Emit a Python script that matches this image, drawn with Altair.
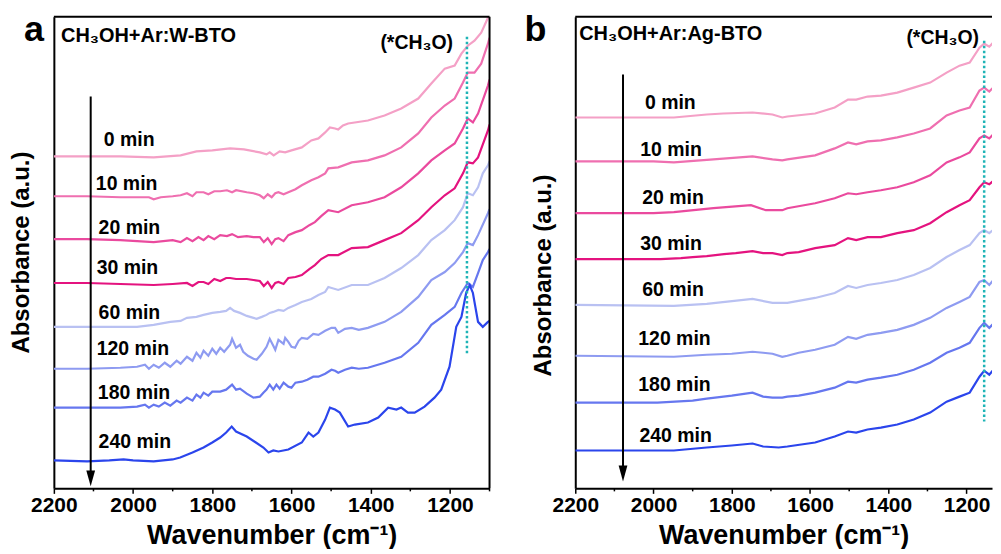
import altair as alt
import pandas as pd

FONT = "Liberation Sans"
NAMES = ["0 min", "10 min", "20 min", "30 min", "60 min", "120 min", "180 min", "240 min"]
COLORS = ["#F4A0C6", "#EF6FB0", "#EA4A9E", "#E4137F", "#B9C1F2", "#8E9BF1", "#6677EF", "#2B45EC"]
X_TICKS = [2200, 2000, 1800, 1600, 1400, 1200]
X_MINOR = [2100, 1900, 1700, 1500, 1300, 1100]

# ---- Panel a (W-BTO): (wavenumber, stacked absorbance a.u.) ----
A_0 = [(2200,333),(2116,333),(2032,333),(1948,332),(1880,334),(1840,338),(1800,339),(1755,341),(1720,340),(1680,337),(1663,335),(1655,337),(1645,334),(1630,338),(1616,337),(1600,339),(1574,342),(1550,349),(1532,351),(1515,357),(1503,362),(1490,361),(1482,360),(1470,364),(1457,366),(1407,369),(1365,374),(1323,381),(1280,391),(1247,406),(1213,421),(1188,424),(1171,436),(1155,444),(1138,449),(1121,457),(1104,472),(1100,478)]
A_10 = [(2200,293),(2116,293),(2032,292),(1960,292),(1948,290),(1930,292),(1900,293),(1880,294),(1864,296),(1850,293),(1840,297),(1822,297),(1810,295),(1795,298),(1780,298),(1763,299),(1750,297),(1740,299),(1713,297),(1696,296),(1680,294),(1670,291),(1660,295),(1650,292),(1641,296),(1633,297),(1620,295),(1608,297),(1590,300),(1574,304),(1550,309),(1532,312),(1515,316),(1507,321),(1482,322),(1448,327),(1407,329),(1365,334),(1323,342),(1280,356),(1247,372),(1213,384),(1188,391),(1167,407),(1155,417),(1138,417),(1121,426),(1104,446),(1100,452)]
A_20 = [(2200,250),(2116,250),(2032,249),(1948,247),(1900,249),(1880,247),(1864,251),(1850,248),(1835,252),(1822,249),(1810,253),(1795,250),(1780,254),(1763,253),(1750,255),(1735,252),(1713,253),(1696,252),(1680,252),(1670,247),(1660,251),(1650,245),(1641,250),(1633,251),(1620,248),(1608,254),(1590,257),(1574,259),(1555,264),(1541,267),(1525,273),(1507,279),(1482,277),(1448,284),(1407,287),(1365,292),(1323,302),(1280,316),(1247,329),(1213,339),(1188,346),(1167,361),(1155,371),(1142,367),(1129,376),(1104,404),(1100,410)]
A_30 = [(2200,206),(2116,206),(2032,205),(1948,204),(1900,205),(1864,206),(1850,203),(1835,207),(1822,207),(1810,205),(1795,210),(1780,208),(1765,211),(1755,211),(1740,210),(1713,210),(1696,209),(1680,208),(1670,203),(1660,207),(1650,201),(1641,206),(1633,207),(1620,205),(1608,211),(1590,212),(1574,214),(1555,220),(1541,224),(1525,230),(1507,234),(1482,234),(1448,241),(1407,242),(1365,249),(1323,256),(1280,269),(1247,282),(1213,294),(1188,301),(1167,316),(1155,327),(1142,326),(1129,332),(1104,359),(1100,365)]
A_60 = [(2200,162),(2116,162),(2032,162),(1990,162),(1948,164),(1906,167),(1880,168),(1864,171),(1840,172),(1822,174),(1800,176),(1780,177),(1765,178),(1755,181),(1745,178),(1730,176),(1713,173),(1696,171),(1688,170),(1675,172),(1663,174),(1655,176),(1646,177),(1633,179),(1620,178),(1608,181),(1590,184),(1574,187),(1550,190),(1532,194),(1515,197),(1507,202),(1482,199),(1448,204),(1407,204),(1365,211),(1323,221),(1280,234),(1247,249),(1213,259),(1188,269),(1167,282),(1155,296),(1142,294),(1129,302),(1117,316),(1104,324),(1100,328)]
A_120 = [(2200,120),(2116,120),(2032,121),(1990,122),(1970,124),(1960,120),(1948,124),(1935,121),(1920,126),(1906,122),(1890,128),(1880,125),(1864,132),(1850,128),(1840,136),(1830,131),(1822,138),(1810,133),(1800,140),(1790,135),(1780,141),(1770,137),(1755,144),(1750,150),(1740,141),(1730,144),(1722,137),(1710,133),(1696,130),(1688,129),(1675,135),(1663,142),(1655,150),(1646,143),(1641,139),(1633,149),(1620,145),(1616,151),(1608,147),(1600,142),(1591,141),(1582,148),(1574,151),(1560,150),(1545,155),(1532,154),(1515,158),(1499,161),(1490,161),(1482,156),(1465,160),(1448,161),(1430,159),(1407,161),(1365,167),(1323,177),(1280,192),(1247,209),(1213,217),(1188,226),(1167,237),(1155,246),(1142,244),(1129,254),(1104,276),(1100,280)]
A_180 = [(2200,81),(2116,81),(2032,81),(1990,82),(1970,84),(1960,81),(1948,84),(1935,82),(1920,86),(1906,83),(1890,88),(1880,86),(1864,91),(1850,88),(1840,94),(1830,91),(1822,96),(1810,93),(1800,97),(1780,97),(1765,99),(1750,104),(1740,99),(1730,100),(1713,95),(1696,91),(1680,92),(1671,96),(1663,99),(1655,104),(1646,99),(1638,104),(1630,100),(1620,106),(1608,102),(1600,101),(1590,106),(1574,107),(1560,109),(1545,112),(1532,112),(1515,115),(1499,119),(1490,118),(1482,116),(1465,119),(1448,121),(1430,120),(1407,121),(1365,126),(1323,132),(1280,146),(1247,164),(1213,174),(1188,182),(1171,196),(1155,206),(1142,202),(1129,216),(1117,229),(1104,237),(1100,240)]
A_240 = [(2200,28),(2116,27),(2060,28),(2024,29),(2000,28),(1948,27),(1900,29),(1881,31),(1850,36),(1822,41),(1800,46),(1780,51),(1765,56),(1751,62),(1740,57),(1713,52),(1690,46),(1671,41),(1658,36),(1646,38),(1633,37),(1608,39),(1574,46),(1557,56),(1545,52),(1532,56),(1515,69),(1503,81),(1490,79),(1478,76),(1457,62),(1440,64),(1407,66),(1381,71),(1356,81),(1335,79),(1323,81),(1306,76),(1289,76),(1264,82),(1239,91),(1222,99),(1201,122),(1184,162),(1171,172),(1159,196),(1150,204),(1142,196),(1129,167),(1117,162),(1104,167),(1100,168)]
A_CURVES = [A_0, A_10, A_20, A_30, A_60, A_120, A_180, A_240]
A_LABEL_WN = [2074, 2094, 2087, 2092, 2087, 2092, 2089, 2087]
A_LABEL_H = [349, 305, 261, 221, 176, 140, 96, 46]

# ---- Panel b (Ag-BTO) ----
B_0 = [(2200,372),(2000,372),(1948,372),(1864,375),(1822,376),(1747,377),(1696,375),(1671,372),(1658,373),(1587,376),(1537,382),(1503,390),(1482,390),(1453,393),(1419,394),(1377,397),(1335,402),(1293,407),(1251,417),(1218,424),(1192,427),(1167,442),(1155,446),(1142,443),(1127,449),(1100,455)]
B_10 = [(2200,328),(2000,328),(1948,327),(1847,330),(1747,333),(1696,330),(1671,329),(1658,330),(1587,334),(1537,341),(1503,347),(1482,345),(1453,348),(1419,349),(1377,352),(1335,356),(1293,361),(1251,374),(1218,379),(1192,382),(1167,399),(1155,402),(1142,398),(1127,404),(1100,410)]
B_20 = [(2200,276),(2000,276),(1948,277),(1847,281),(1751,284),(1713,279),(1671,279),(1658,281),(1587,286),(1537,291),(1503,296),(1482,295),(1453,297),(1419,299),(1377,302),(1335,307),(1293,314),(1251,327),(1218,332),(1192,337),(1167,351),(1155,354),(1142,351),(1127,357),(1100,362)]
B_30 = [(2200,230),(1982,230),(1930,231),(1900,232),(1864,233),(1820,235),(1790,236),(1747,238),(1720,236),(1696,236),(1671,234),(1658,236),(1629,237),(1587,241),(1537,244),(1503,251),(1482,249),(1453,252),(1419,252),(1377,256),(1335,259),(1293,266),(1251,277),(1218,284),(1192,289),(1167,302),(1155,307),(1142,305),(1127,310),(1100,315)]
B_60 = [(2200,184),(1948,183),(1864,185),(1747,190),(1696,186),(1671,186),(1658,186),(1587,191),(1537,196),(1503,203),(1482,201),(1453,204),(1419,206),(1377,209),(1335,214),(1293,221),(1251,232),(1218,239),(1192,244),(1167,256),(1155,259),(1142,256),(1127,261),(1100,266)]
B_120 = [(2200,133),(1948,132),(1864,134),(1800,135),(1747,137),(1720,136),(1696,135),(1671,132),(1658,133),(1629,136),(1587,139),(1537,144),(1503,152),(1482,150),(1453,154),(1419,156),(1377,159),(1335,164),(1293,171),(1251,181),(1218,187),(1192,192),(1167,207),(1155,209),(1142,204),(1127,211),(1100,216)]
B_180 = [(2200,86),(1990,86),(1900,88),(1864,90),(1800,93),(1747,96),(1720,92),(1696,91),(1671,91),(1658,92),(1629,93),(1587,96),(1537,101),(1503,107),(1482,106),(1453,109),(1419,111),(1377,114),(1335,119),(1293,126),(1251,136),(1218,141),(1192,146),(1167,161),(1155,166),(1142,161),(1127,167),(1100,172)]
B_240 = [(2200,38),(1948,38),(1864,41),(1800,43),(1747,45),(1720,42),(1680,41),(1658,42),(1587,46),(1537,52),(1503,57),(1482,56),(1453,59),(1419,61),(1377,64),(1335,69),(1293,76),(1251,87),(1218,92),(1192,96),(1167,112),(1155,118),(1142,114),(1127,121),(1100,126)]
B_CURVES = [B_0, B_10, B_20, B_30, B_60, B_120, B_180, B_240]
B_LABEL_WN = [2022, 2034, 2029, 2034, 2029, 2039, 2039, 2036]
B_LABEL_H = [387, 339, 291, 245, 199, 150, 104, 53]

HEIGHT = 473


def panel(curves, label_wn, label_h, letter, letter_x, sample, sample_wn, sample_h,
          tag_wn, tag_h, peak_wn, peak_top, peak_bottom, arrow_wn, arrow_top,
          arrow_head, title_y, x_min, width, right_border):
    rows = [{"wn": w, "h": h, "series": n}
            for n, pts in zip(NAMES, curves) for w, h in pts]
    df = pd.DataFrame(rows)
    x = alt.X("wn:Q",
              scale=alt.Scale(domain=[x_min, 2200], reverse=True, nice=False, zero=False),
              axis=alt.Axis(values=X_TICKS, format="d", title="Wavenumber (cm⁻¹)",
                            labelFlush=False, labelPadding=1, titlePadding=7, tickSize=5,
                            titleFontSize=27))
    y = alt.Y("h:Q", scale=alt.Scale(domain=[0, HEIGHT], nice=False, zero=False),
              axis=alt.Axis(labels=False, ticks=False, title="Absorbance (a.u.)",
                            titlePadding=20, titleY=title_y, titleFontSize=24))
    lines = alt.Chart(df).mark_line(strokeWidth=2.2, clip=True).encode(
        x=x, y=y,
        color=alt.Color("series:N", scale=alt.Scale(domain=NAMES, range=COLORS), legend=None),
    )
    minor = alt.Chart(pd.DataFrame({"wn": [v for v in X_MINOR if v >= x_min]})).mark_rule(
        color="black", strokeWidth=1.5
    ).encode(x="wn:Q", y=alt.value(HEIGHT), y2=alt.value(HEIGHT + 3))
    lab = alt.Chart(pd.DataFrame({"wn": label_wn, "h": label_h, "t": NAMES})).mark_text(
        align="left", baseline="middle", font=FONT, fontSize=19.5, fontWeight="bold", color="black"
    ).encode(x="wn:Q", y="h:Q", text="t:N")
    peak = alt.Chart(pd.DataFrame({"wn": [peak_wn], "h": [peak_top], "h2": [peak_bottom]})).mark_rule(
        color="#1FB4B6", strokeWidth=2.5, strokeDash=[2.5, 2.5]
    ).encode(x="wn:Q", y="h:Q", y2="h2:Q")
    arrow = alt.Chart(pd.DataFrame({"wn": [arrow_wn], "h": [arrow_top], "h2": [arrow_head]})).mark_rule(
        color="black", strokeWidth=2
    ).encode(x="wn:Q", y="h:Q", y2="h2:Q")
    head = alt.Chart(pd.DataFrame({"wn": [arrow_wn], "h": [arrow_head]})).mark_point(
        shape="M-0.55,-1L0.55,-1L0,1Z", filled=True, size=256, color="black", opacity=1, strokeWidth=0
    ).encode(x="wn:Q", y="h:Q")
    samp = alt.Chart(pd.DataFrame({"wn": [sample_wn], "h": [sample_h], "t": [sample]})).mark_text(
        align="left", baseline="middle", font=FONT, fontSize=20, fontWeight="bold", color="black"
    ).encode(x="wn:Q", y="h:Q", text="t:N")
    tag = alt.Chart(pd.DataFrame({"wn": [tag_wn], "h": [tag_h], "t": ["(*CH₃O)"]})).mark_text(
        align="right", baseline="middle", font=FONT, fontSize=19.5, fontWeight="bold", color="black"
    ).encode(x="wn:Q", y="h:Q", text="t:N")
    let = alt.Chart(pd.DataFrame({"t": [letter]})).mark_text(
        align="center", baseline="alphabetic", font=FONT, fontSize=36, fontWeight="bold", color="black"
    ).encode(x=alt.value(letter_x), y=alt.value(24), text="t:N")
    top = alt.Chart(pd.DataFrame({"t": [letter]})).mark_rule(color="black", strokeWidth=2).encode(
        x=alt.value(0), x2=alt.value(width), y=alt.value(0))
    layers = [lines, minor, peak, arrow, head, lab, samp, tag, let, top]
    if right_border:
        layers.append(alt.Chart(pd.DataFrame({"t": [letter]})).mark_rule(color="black", strokeWidth=2).encode(
            x=alt.value(width), y=alt.value(0), y2=alt.value(HEIGHT)))
    return alt.layer(*layers).properties(width=width, height=HEIGHT)


pa = panel(A_CURVES, A_LABEL_WN, A_LABEL_H, "a", -20, "CH₃OH+Ar:W-BTO", 2182, 454,
           1192, 447, 1157, 453, 133, 2107, 393, 10, 236, 1100, 437, True)
pb = panel(B_CURVES, B_LABEL_WN, B_LABEL_H, "b", -40, "CH₃OH+Ar:Ag-BTO", 2190, 456,
           1168, 452, 1155, 449, 67, 2078, 415, 15, 259, 1135, 418, False)

chart = alt.hconcat(pa, pb, spacing=34).properties(
    padding={"left": 2, "top": 3, "right": 0, "bottom": 0}
).configure_view(strokeWidth=0).configure_axis(
    labelFont=FONT, labelFontSize=21, labelFontWeight="bold", labelColor="black",
    titleFont=FONT, titleFontWeight="bold", titleColor="black",
    domainColor="black", domainWidth=2, tickColor="black", tickWidth=1.5, grid=False
)

chart.save("out.html", embed_options={"renderer": "svg", "actions": False})
